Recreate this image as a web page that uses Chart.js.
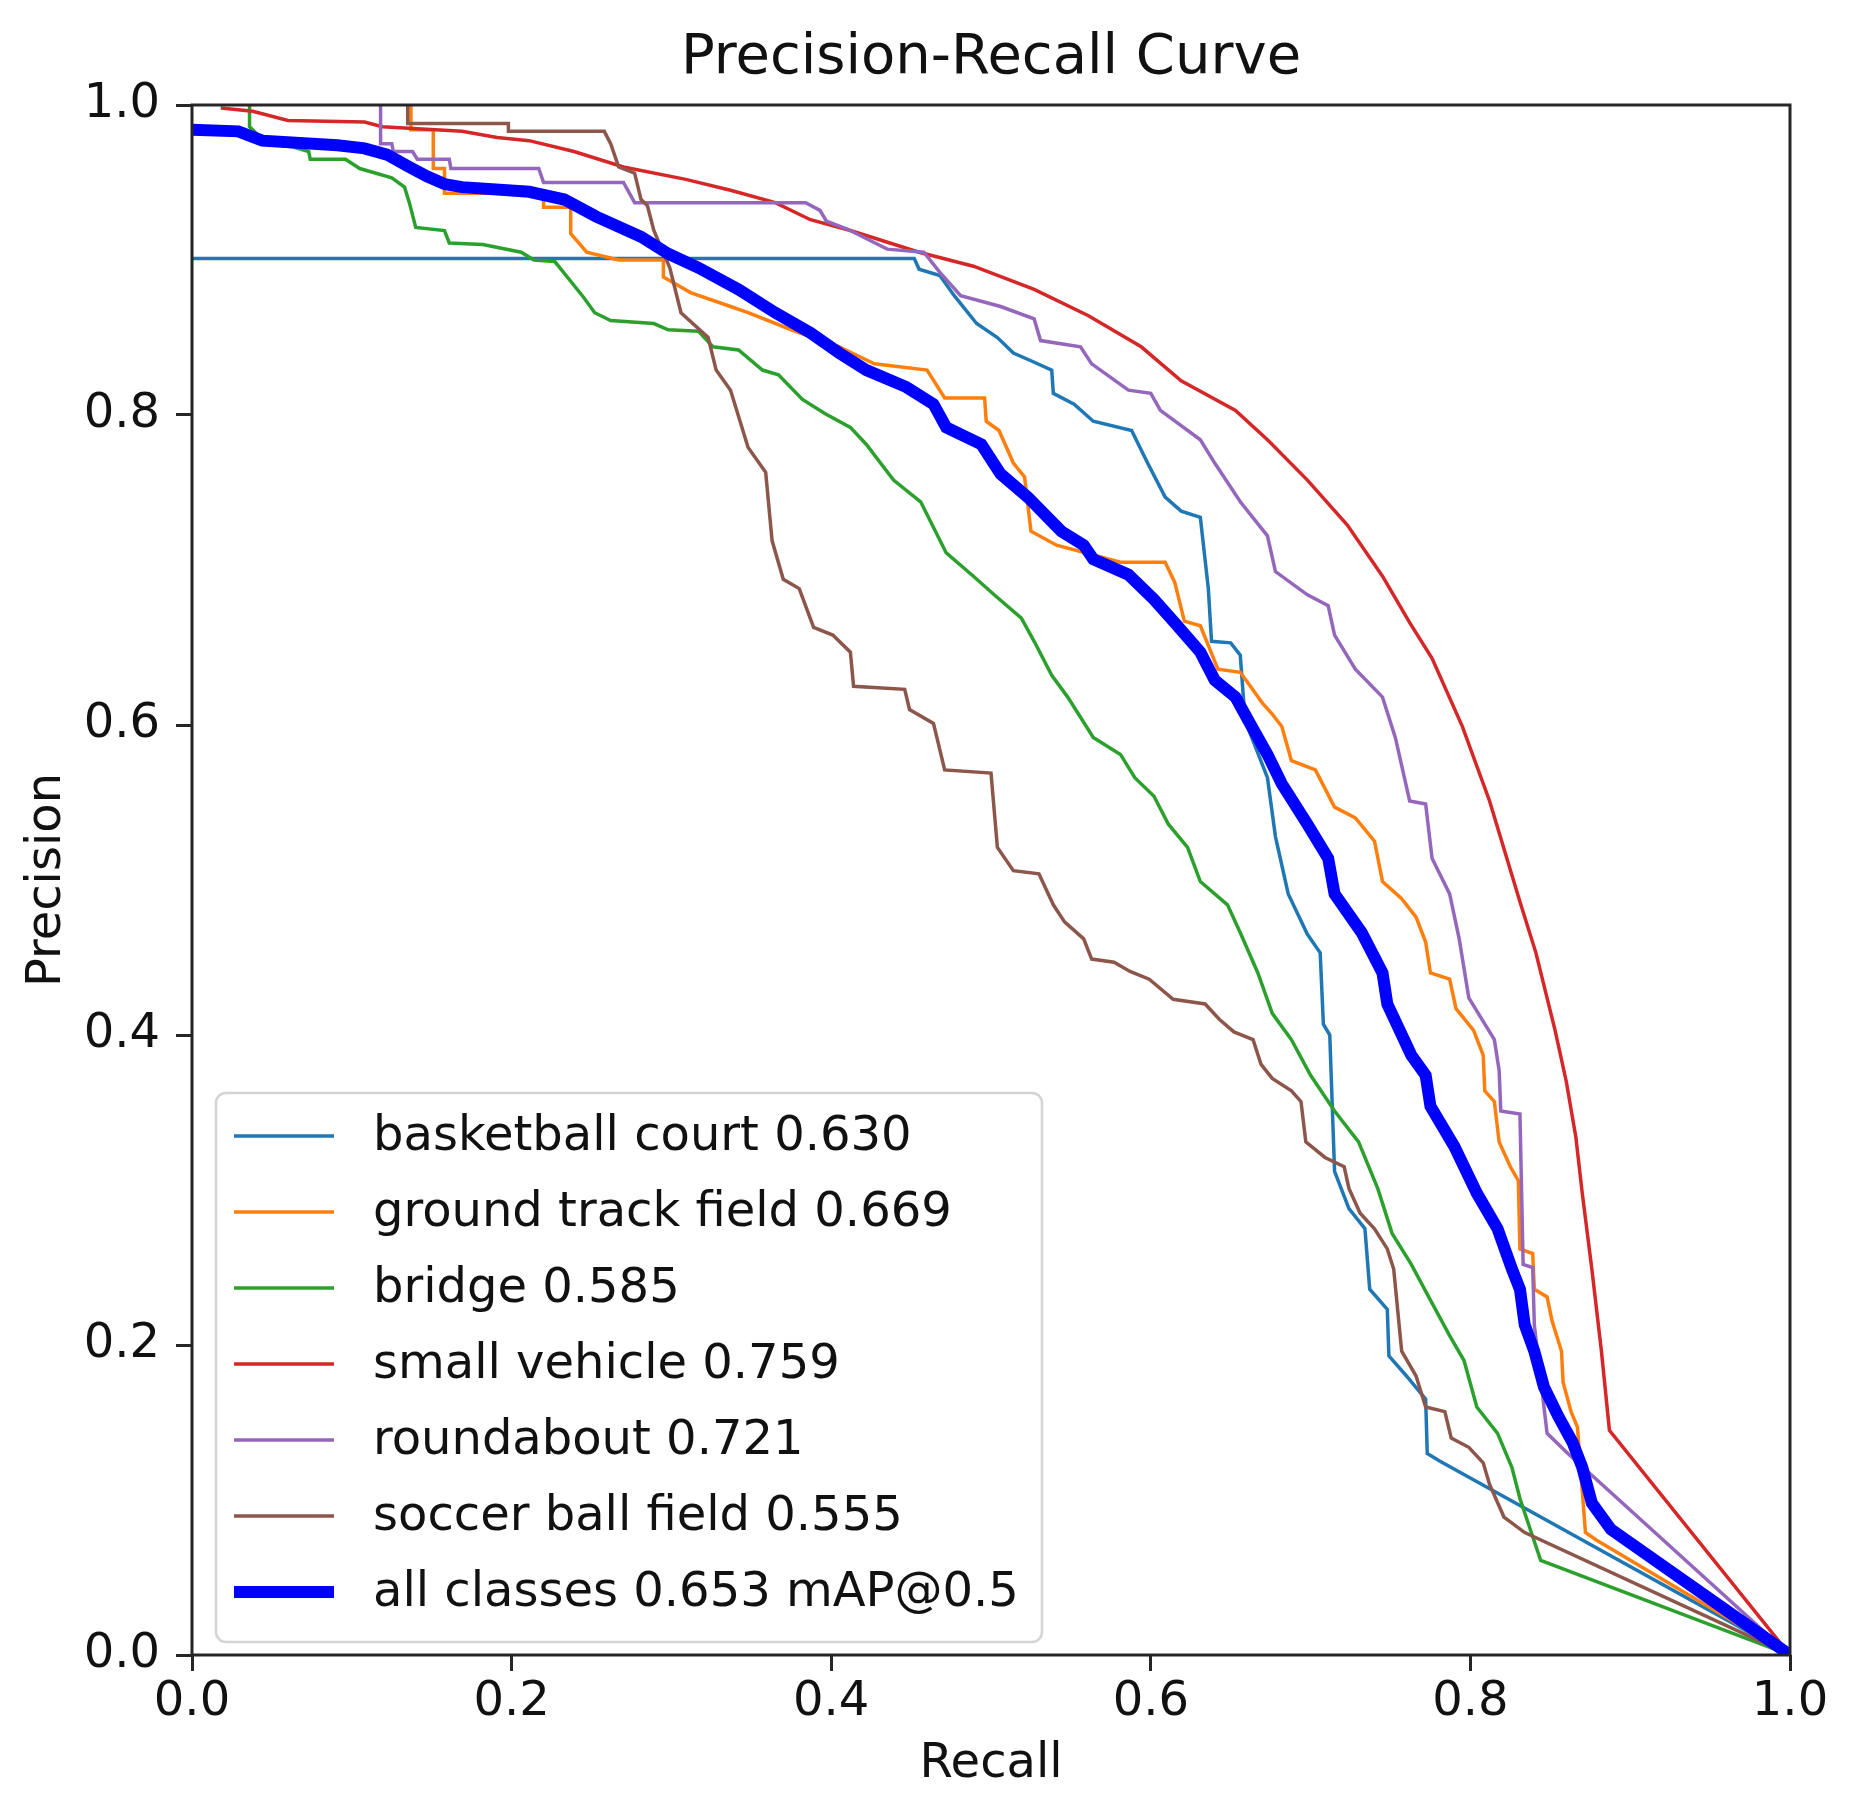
<!DOCTYPE html>
<html>
<head>
<meta charset="utf-8">
<title>Precision-Recall Curve</title>
<script src="https://cdn.jsdelivr.net/npm/chart.js@4.4.1/dist/chart.umd.min.js"></script>
<style>
  html, body { margin: 0; padding: 0; background: #fff; }
  #js--pr { display: block; }
</style>
</head>
<body>
<canvas id="js--pr" width="1849" height="1814"></canvas>
<script>
// class names and AP values, in legend order
const classNames = ['basketball court', 'ground track field', 'bridge', 'small vehicle', 'roundabout', 'soccer ball field', 'all classes'];
const apScores = ['0.630', '0.669', '0.585', '0.759', '0.721', '0.555', '0.653'];

const tickValues = [0.0, 0.2, 0.4, 0.6, 0.8, 1.0];

// [recall, precision] pairs
const basketballCourt = [
  [0, 0.901], [0.452, 0.901], [0.455, 0.894], [0.468, 0.890], [0.477, 0.877], [0.491, 0.859],
  [0.504, 0.850], [0.514, 0.840], [0.525, 0.835], [0.538, 0.829], [0.539, 0.814], [0.552, 0.807],
  [0.564, 0.796], [0.588, 0.790], [0.598, 0.769], [0.609, 0.747], [0.619, 0.738], [0.631, 0.734],
  [0.636, 0.688], [0.638, 0.654], [0.650, 0.653], [0.656, 0.645], [0.659, 0.603], [0.673, 0.566],
  [0.678, 0.528], [0.686, 0.491], [0.698, 0.465], [0.706, 0.453], [0.708, 0.407], [0.712, 0.400],
  [0.715, 0.312], [0.724, 0.288], [0.734, 0.275], [0.737, 0.236], [0.748, 0.223], [0.749, 0.193],
  [0.760, 0.180], [0.772, 0.165], [0.773, 0.130], [0.781, 0.125], [1.0, 0.0]
];

const groundTrackField = [
  [0.137, 1.0], [0.137, 0.984], [0.151, 0.984], [0.151, 0.959], [0.158, 0.959], [0.158, 0.943],
  [0.220, 0.943], [0.220, 0.934], [0.237, 0.934], [0.237, 0.917], [0.247, 0.905], [0.267, 0.900],
  [0.295, 0.900], [0.295, 0.889], [0.312, 0.879], [0.337, 0.870], [0.348, 0.866], [0.375, 0.855],
  [0.405, 0.844], [0.427, 0.833], [0.460, 0.829], [0.471, 0.811], [0.496, 0.811], [0.497, 0.796],
  [0.505, 0.790], [0.514, 0.769], [0.521, 0.760], [0.525, 0.725], [0.541, 0.716], [0.581, 0.705],
  [0.609, 0.705], [0.615, 0.692], [0.621, 0.667], [0.631, 0.664], [0.642, 0.636], [0.656, 0.634],
  [0.670, 0.614], [0.676, 0.607], [0.682, 0.599], [0.688, 0.577], [0.703, 0.571], [0.715, 0.547],
  [0.728, 0.540], [0.740, 0.525], [0.745, 0.499], [0.757, 0.488], [0.766, 0.476], [0.772, 0.460],
  [0.775, 0.440], [0.787, 0.436], [0.791, 0.417], [0.802, 0.403], [0.808, 0.387], [0.809, 0.364],
  [0.815, 0.357], [0.818, 0.331], [0.825, 0.315], [0.830, 0.306], [0.831, 0.262], [0.839, 0.259],
  [0.840, 0.236], [0.848, 0.231], [0.851, 0.216], [0.857, 0.196], [0.858, 0.176], [0.863, 0.157],
  [0.867, 0.147], [0.872, 0.079], [0.879, 0.074], [1.0, 0.0]
];

const bridge = [
  [0.036, 1.0], [0.036, 0.986], [0.040, 0.982], [0.046, 0.975], [0.063, 0.973], [0.073, 0.970],
  [0.074, 0.965], [0.096, 0.965], [0.105, 0.959], [0.125, 0.953], [0.133, 0.947], [0.136, 0.937],
  [0.140, 0.921], [0.158, 0.919], [0.161, 0.911], [0.182, 0.910], [0.206, 0.905], [0.214, 0.900],
  [0.227, 0.899], [0.231, 0.894], [0.245, 0.876], [0.252, 0.866], [0.262, 0.861], [0.289, 0.859],
  [0.298, 0.855], [0.317, 0.854], [0.326, 0.844], [0.342, 0.842], [0.357, 0.829], [0.367, 0.826],
  [0.382, 0.810], [0.396, 0.801], [0.412, 0.792], [0.422, 0.781], [0.439, 0.758], [0.456, 0.744],
  [0.472, 0.711], [0.489, 0.696], [0.502, 0.684], [0.519, 0.669], [0.527, 0.654], [0.538, 0.632],
  [0.548, 0.618], [0.564, 0.592], [0.581, 0.581], [0.590, 0.566], [0.602, 0.554], [0.611, 0.536],
  [0.623, 0.521], [0.631, 0.499], [0.648, 0.484], [0.656, 0.466], [0.667, 0.440], [0.676, 0.414],
  [0.688, 0.397], [0.700, 0.374], [0.715, 0.351], [0.730, 0.331], [0.742, 0.301], [0.751, 0.272],
  [0.763, 0.252], [0.775, 0.229], [0.787, 0.206], [0.796, 0.190], [0.804, 0.160], [0.817, 0.143],
  [0.826, 0.121], [0.831, 0.101], [0.844, 0.061], [1.0, 0.0]
];

const smallVehicle = [
  [0.018, 0.998], [0.038, 0.996], [0.060, 0.990], [0.108, 0.989], [0.119, 0.986], [0.169, 0.983],
  [0.191, 0.979], [0.211, 0.977], [0.239, 0.970], [0.270, 0.960], [0.309, 0.952], [0.337, 0.945],
  [0.365, 0.937], [0.387, 0.926], [0.412, 0.919], [0.455, 0.905], [0.489, 0.896], [0.527, 0.881],
  [0.561, 0.864], [0.594, 0.844], [0.619, 0.822], [0.653, 0.803], [0.673, 0.784], [0.698, 0.758],
  [0.723, 0.729], [0.745, 0.696], [0.762, 0.666], [0.776, 0.643], [0.795, 0.599], [0.812, 0.551],
  [0.831, 0.486], [0.841, 0.453], [0.853, 0.403], [0.860, 0.370], [0.866, 0.334], [0.870, 0.298],
  [0.876, 0.249], [0.882, 0.196], [0.887, 0.145], [1.0, 0.0]
];

const roundabout = [
  [0.118, 1.0], [0.118, 0.975], [0.125, 0.975], [0.126, 0.970], [0.138, 0.970], [0.141, 0.965],
  [0.161, 0.965], [0.162, 0.959], [0.217, 0.959], [0.220, 0.950], [0.270, 0.950], [0.277, 0.937],
  [0.384, 0.937], [0.393, 0.932], [0.397, 0.925], [0.410, 0.920], [0.435, 0.907], [0.458, 0.905],
  [0.468, 0.892], [0.481, 0.877], [0.506, 0.870], [0.527, 0.862], [0.531, 0.848], [0.556, 0.844],
  [0.563, 0.833], [0.586, 0.816], [0.600, 0.814], [0.606, 0.803], [0.631, 0.784], [0.640, 0.769],
  [0.656, 0.744], [0.673, 0.722], [0.678, 0.699], [0.698, 0.684], [0.711, 0.677], [0.715, 0.658],
  [0.728, 0.636], [0.745, 0.618], [0.753, 0.592], [0.762, 0.551], [0.772, 0.549], [0.776, 0.514],
  [0.787, 0.491], [0.793, 0.462], [0.799, 0.424], [0.815, 0.397], [0.818, 0.377], [0.819, 0.351],
  [0.831, 0.349], [0.833, 0.252], [0.839, 0.250], [0.840, 0.213], [0.848, 0.143], [0.861, 0.130],
  [1.0, 0.0]
];

const soccerBallField = [
  [0.135, 1.0], [0.135, 0.988], [0.198, 0.988], [0.198, 0.983], [0.258, 0.983], [0.262, 0.975],
  [0.267, 0.960], [0.277, 0.956], [0.281, 0.939], [0.285, 0.935], [0.289, 0.919], [0.299, 0.895],
  [0.306, 0.866], [0.323, 0.850], [0.328, 0.829], [0.337, 0.816], [0.348, 0.779], [0.359, 0.763],
  [0.363, 0.719], [0.370, 0.694], [0.380, 0.688], [0.389, 0.663], [0.401, 0.658], [0.412, 0.647],
  [0.414, 0.625], [0.446, 0.623], [0.449, 0.610], [0.464, 0.601], [0.471, 0.571], [0.500, 0.569],
  [0.504, 0.521], [0.514, 0.506], [0.530, 0.504], [0.539, 0.484], [0.546, 0.473], [0.558, 0.462],
  [0.563, 0.449], [0.577, 0.447], [0.587, 0.441], [0.599, 0.436], [0.614, 0.423], [0.634, 0.420],
  [0.643, 0.410], [0.652, 0.402], [0.664, 0.397], [0.669, 0.381], [0.676, 0.372], [0.688, 0.364],
  [0.694, 0.357], [0.697, 0.331], [0.709, 0.321], [0.721, 0.315], [0.724, 0.301], [0.731, 0.285],
  [0.740, 0.275], [0.748, 0.262], [0.752, 0.249], [0.757, 0.196], [0.766, 0.180], [0.772, 0.160],
  [0.784, 0.157], [0.788, 0.140], [0.799, 0.134], [0.808, 0.124], [0.812, 0.110], [0.821, 0.089],
  [0.834, 0.079], [1.0, 0.0]
];

const allClasses = [
  [0, 0.984], [0.029, 0.983], [0.044, 0.977], [0.091, 0.974], [0.108, 0.972], [0.122, 0.968],
  [0.136, 0.960], [0.147, 0.954], [0.158, 0.949], [0.169, 0.947], [0.211, 0.944], [0.233, 0.939],
  [0.253, 0.928], [0.281, 0.915], [0.298, 0.904], [0.317, 0.895], [0.342, 0.881], [0.365, 0.866],
  [0.387, 0.853], [0.405, 0.840], [0.422, 0.829], [0.447, 0.818], [0.464, 0.807], [0.472, 0.792],
  [0.494, 0.781], [0.506, 0.762], [0.523, 0.747], [0.544, 0.725], [0.558, 0.716], [0.564, 0.707],
  [0.586, 0.697], [0.602, 0.681], [0.615, 0.666], [0.631, 0.647], [0.640, 0.629], [0.653, 0.618],
  [0.661, 0.603], [0.673, 0.581], [0.682, 0.562], [0.698, 0.536], [0.711, 0.514], [0.715, 0.491],
  [0.732, 0.466], [0.745, 0.440], [0.748, 0.420], [0.763, 0.387], [0.772, 0.374], [0.775, 0.354],
  [0.790, 0.328], [0.804, 0.298], [0.817, 0.275], [0.826, 0.249], [0.831, 0.236], [0.834, 0.213],
  [0.840, 0.196], [0.846, 0.173], [0.855, 0.154], [0.864, 0.137], [0.870, 0.121], [0.876, 0.098],
  [0.888, 0.081], [1.0, 0.0]
];

const curves = [basketballCourt, groundTrackField, bridge, smallVehicle, roundabout, soccerBallField, allClasses];
const lineColors = ['#1f77b4', '#ff7f0e', '#2ca02c', '#d62728', '#9467bd', '#8c564b', '#0000ff'];

const FONT = '"DejaVu Sans", "Liberation Sans", sans-serif';
const AXIS = '#262626';

const datasets = curves.map(function (pts, i) {
  const thick = i === curves.length - 1;
  return {
    label: classNames[i] + ' ' + apScores[i] + (thick ? ' mAP@0.5' : ''),
    data: pts.map(function (p) { return { x: p[0], y: p[1] }; }),
    borderColor: lineColors[i],
    backgroundColor: lineColors[i],
    borderWidth: thick ? 12 : 3.5,
    pointRadius: 0,
    tension: 0,
    fill: false,
    order: curves.length - i  // matplotlib draws later lines on top
  };
});

// title centred over the axes, frame, and the legend box
const prDecor = {
  id: 'prDecor',
  afterDatasetsDraw(chart) {
    const ctx = chart.ctx;
    const a = chart.chartArea;
    ctx.save();

    ctx.strokeStyle = AXIS;
    ctx.lineWidth = 3;
    ctx.strokeRect(a.left, a.top, a.right - a.left, a.bottom - a.top);

    ctx.fillStyle = '#111';
    ctx.font = '56px ' + FONT;
    ctx.textAlign = 'center';
    ctx.textBaseline = 'middle';
    ctx.fillText('Precision-Recall Curve', (a.left + a.right) / 2, 58);

    // legend
    const bx = a.left + 24, bw = 826, bh = 549;
    const by = a.bottom - 13 - bh;
    const r = 10;
    ctx.beginPath();
    ctx.moveTo(bx + r, by);
    ctx.arcTo(bx + bw, by, bx + bw, by + bh, r);
    ctx.arcTo(bx + bw, by + bh, bx, by + bh, r);
    ctx.arcTo(bx, by + bh, bx, by, r);
    ctx.arcTo(bx, by, bx + bw, by, r);
    ctx.closePath();
    ctx.fillStyle = 'rgba(255,255,255,0.8)';
    ctx.fill();
    ctx.strokeStyle = '#d4d4d4';
    ctx.lineWidth = 2.5;
    ctx.stroke();

    ctx.font = '48px ' + FONT;
    ctx.textAlign = 'left';
    chart.data.datasets.forEach(function (ds, i) {
      const y = by + 43 + i * 76;
      ctx.beginPath();
      ctx.moveTo(bx + 18, y);
      ctx.lineTo(bx + 118, y);
      ctx.strokeStyle = ds.borderColor;
      ctx.lineWidth = ds.borderWidth;
      ctx.stroke();
      ctx.fillStyle = '#111';
      ctx.fillText(ds.label, bx + 157, y + 2);
    });
    ctx.restore();
  }
};

function setTicks(scale) {
  scale.ticks = tickValues.map(function (v) { return { value: v }; });
}

const config = {
  type: 'line',
  data: { datasets: datasets },
  options: {
    responsive: false,
    devicePixelRatio: 1,
    animation: false,
    layout: { padding: { top: 105, right: 59, bottom: 0, left: 0 } },
    plugins: {
      legend: { display: false },
      title: { display: false },
      tooltip: { enabled: false }
    },
    scales: {
      x: {
        type: 'linear',
        min: 0,
        max: 1,
        afterBuildTicks: setTicks,
        afterFit: function (s) { s.height = 159; },
        grid: { drawOnChartArea: false, drawTicks: true, tickLength: 16, color: AXIS, lineWidth: 3 },
        border: { display: false },
        ticks: {
          color: '#111',
          font: { family: FONT, size: 48 },
          padding: 3,
          maxRotation: 0,
          callback: function (v) { return v.toFixed(1); }
        },
        title: {
          display: true,
          text: 'Recall',
          color: '#111',
          font: { family: FONT, size: 48 },
          padding: { top: 0, bottom: 21 }
        }
      },
      y: {
        type: 'linear',
        min: 0,
        max: 1,
        afterBuildTicks: setTicks,
        afterFit: function (s) { s.width = 192; },
        grid: { drawOnChartArea: false, drawTicks: true, tickLength: 16, color: AXIS, lineWidth: 3 },
        border: { display: false },
        ticks: {
          color: '#111',
          font: { family: FONT, size: 48 },
          padding: 16,
          callback: function (v) { return v.toFixed(1); }
        },
        title: {
          display: true,
          text: 'Precision',
          color: '#111',
          font: { family: FONT, size: 48 },
          padding: { top: 19, bottom: 0 }
        }
      }
    }
  },
  plugins: [prDecor]
};

const chart1 = new Chart(document.getElementById('js--pr'), config);
</script>
</body>
</html>
